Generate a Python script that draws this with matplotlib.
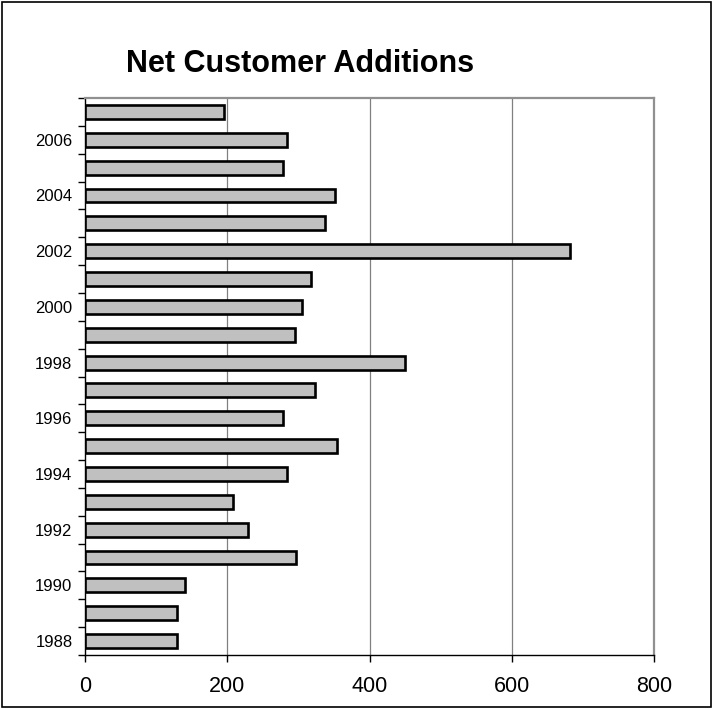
import matplotlib
matplotlib.use("Agg")
import matplotlib.pyplot as plt
from matplotlib.patches import Rectangle

years = list(range(1988, 2008))
values = [130, 130, 140, 296, 229, 208, 284, 355, 279, 324,
          450, 295, 305, 318, 682, 337, 352, 278, 284, 195]
x_ticks = [0, 200, 400, 600, 800]
title = "Net Customer Additions"

plt.rcParams['font.family'] = ['Liberation Sans', 'DejaVu Sans']

W, H = 713, 709
fig = plt.figure(figsize=(W / 100, H / 100), dpi=100)
ax = fig.add_axes([85 / W, 1 - 655 / H, (654 - 85) / W, (655 - 98) / H])

ax.barh(years, values, height=0.5, color='#C0C0C0', edgecolor='black',
        linewidth=1.9, zorder=3)

ax.set_xlim(0, 800)
ax.set_ylim(years[0] - 0.5, years[-1] + 0.5)

ax.set_xticks(x_ticks)
ax.set_xticklabels([str(v) for v in x_ticks], fontsize=15.5)
ax.tick_params(axis='x', direction='out', length=5, width=1, pad=10, colors='black')

bounds = [y - 0.5 for y in years] + [years[-1] + 0.5]
ax.set_yticks(bounds)
ax.set_yticklabels([''] * len(bounds))
ax.tick_params(axis='y', which='major', direction='out', length=5, width=1)
even = [y for y in years if y % 2 == 0]
ax.set_yticks(even, minor=True)
ax.set_yticklabels([str(y) for y in even], minor=True, fontsize=12)
ax.tick_params(axis='y', which='minor', length=0, pad=9)

for v in x_ticks[1:-1]:
    ax.axvline(v, color='#808080', linewidth=0.9, zorder=1)

ax.spines['left'].set_color('black')
ax.spines['bottom'].set_color('black')
ax.spines['left'].set_linewidth(1.0)
ax.spines['bottom'].set_linewidth(1.0)
ax.spines['top'].set_color('#909090')
ax.spines['right'].set_color('#909090')
ax.spines['top'].set_linewidth(1.6)
ax.spines['right'].set_linewidth(1.6)

fig.text(300 / W, 1 - 64 / H, title, fontsize=22, fontweight='bold',
         ha='center', va='center')

fig.patches.append(Rectangle((2 / W, 2 / H), (W - 4) / W, (H - 4) / H,
                             transform=fig.transFigure, fill=False,
                             edgecolor='black', linewidth=1.2))

fig.savefig('out.png', dpi=100)
